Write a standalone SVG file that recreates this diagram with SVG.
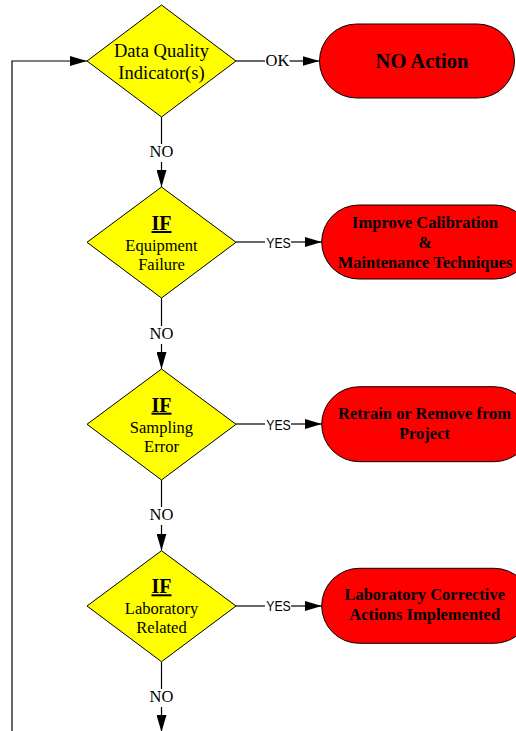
<svg xmlns="http://www.w3.org/2000/svg" width="516" height="731" viewBox="0 0 516 731">
<defs>
<marker id="arr" markerUnits="userSpaceOnUse" markerWidth="17" markerHeight="10" refX="17" refY="5" orient="auto"><path d="M0,0 L17,5 L0,10 z" fill="#000"/></marker>
<style>
.dia{fill:#FFFF00;stroke:#000;stroke-width:1}
.term{fill:#FF0000;stroke:#000;stroke-width:1}
.ln{stroke:#000;stroke-width:1.2;fill:none}
.t{font-family:"Liberation Serif","Times New Roman",serif;font-size:16.5px;text-anchor:middle;fill:#000}
.t18{font-family:"Liberation Serif","Times New Roman",serif;font-size:18.5px;text-anchor:middle;fill:#000}
.if{font-family:"Liberation Serif","Times New Roman",serif;font-size:20px;font-weight:bold;text-anchor:middle;text-decoration:underline;fill:#000}
.tb{font-family:"Liberation Serif","Times New Roman",serif;font-size:16.5px;font-weight:bold;text-anchor:middle;fill:#000}
.tb20{font-family:"Liberation Serif","Times New Roman",serif;font-size:20.5px;font-weight:bold;text-anchor:middle;fill:#000}
.yes{font-family:"Liberation Sans",Arial,sans-serif;font-size:14px;text-anchor:middle;fill:#000}
</style>
</defs>
<g id="connectors">
<path class="ln" d="M12,731 L12,61 L87,61" marker-end="url(#arr)"/>
<path class="ln" d="M236,61 L265,61"/><path class="ln" d="M289.5,61 L319.5,61" marker-end="url(#arr)"/>
<text class="t" x="277.5" y="66">OK</text>
<path class="ln" d="M161.5,117 L161.5,144"/><path class="ln" d="M161.5,162 L161.5,187" marker-end="url(#arr)"/>
<text class="t" x="161.5" y="157">NO</text>
<path class="ln" d="M236,242 L265,242"/><path class="ln" d="M291,242 L321.7,242" marker-end="url(#arr)"/>
<text class="yes" x="278.5" y="247.5" textLength="24.5" lengthAdjust="spacingAndGlyphs">YES</text>
<path class="ln" d="M161.5,298 L161.5,326"/><path class="ln" d="M161.5,344 L161.5,369" marker-end="url(#arr)"/>
<text class="t" x="161.5" y="339">NO</text>
<path class="ln" d="M236,424 L265,424"/><path class="ln" d="M291,424 L321.7,424" marker-end="url(#arr)"/>
<text class="yes" x="278.5" y="429.5" textLength="24.5" lengthAdjust="spacingAndGlyphs">YES</text>
<path class="ln" d="M161.5,480 L161.5,507"/><path class="ln" d="M161.5,525 L161.5,550.5" marker-end="url(#arr)"/>
<text class="t" x="161.5" y="520">NO</text>
<path class="ln" d="M236,606 L265,606"/><path class="ln" d="M291,606 L321.7,606" marker-end="url(#arr)"/>
<text class="yes" x="278.5" y="611" textLength="24.5" lengthAdjust="spacingAndGlyphs">YES</text>
<path class="ln" d="M161.5,662 L161.5,689"/><path class="ln" d="M161.5,707 L161.5,732" marker-end="url(#arr)"/>
<text class="t" x="161.5" y="702">NO</text>
</g>
<g id="dq">
<polygon class="dia" points="161.5,5 236,61 161.5,117 87,61"/>
<text class="t18" x="161.5" y="56.5">Data Quality</text>
<text class="t18" x="161.5" y="78.5">Indicator(s)</text>
</g>
<g id="noaction">
<rect class="term" x="319.5" y="24" width="195" height="74" rx="37" ry="37"/>
<text class="tb20" x="422" y="68">NO Action</text>
</g>
<g id="equip">
<polygon class="dia" points="161.5,187 236,242.3 161.5,298 87,242.3"/>
<text class="if" x="161.5" y="230">IF</text>
<text class="t" x="161.5" y="251">Equipment</text>
<text class="t" x="161.5" y="270">Failure</text>
</g>
<g id="improve">
<rect class="term" x="321.7" y="205" width="210" height="74" rx="37" ry="37"/>
<text class="tb" x="425" y="228.3">Improve Calibration</text>
<text class="tb" x="425" y="248">&amp;</text>
<text class="tb" x="425" y="267.7">Maintenance Techniques</text>
</g>
<g id="sampling">
<polygon class="dia" points="161.5,369 236,424.3 161.5,480 87,424.3"/>
<text class="if" x="161.5" y="411.7">IF</text>
<text class="t" x="161.5" y="432.7">Sampling</text>
<text class="t" x="161.5" y="451.7">Error</text>
</g>
<g id="retrain">
<rect class="term" x="321.7" y="386.7" width="210" height="75" rx="37.5" ry="37.5"/>
<text class="tb" x="424.5" y="419.3">Retrain or Remove from</text>
<text class="tb" x="424.5" y="439.3">Project</text>
</g>
<g id="lab">
<polygon class="dia" points="161.5,550.7 236,606 161.5,661.7 87,606"/>
<text class="if" x="161.5" y="593.3">IF</text>
<text class="t" x="161.5" y="614">Laboratory</text>
<text class="t" x="161.5" y="633.3">Related</text>
</g>
<g id="labcorr">
<rect class="term" x="321.7" y="568.3" width="210" height="75" rx="37.5" ry="37.5"/>
<text class="tb" x="424.7" y="600">Laboratory Corrective</text>
<text class="tb" x="424.7" y="620">Actions Implemented</text>
</g>
</svg>
